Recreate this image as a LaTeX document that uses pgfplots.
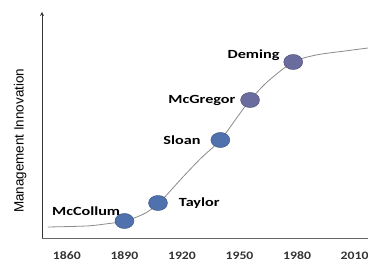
\documentclass[border=0pt]{standalone}
\usepackage{pgfplots}
\pgfplotsset{compat=1.18}
\usepackage{fontspec}
\setmainfont{Carlito}
\newfontfamily\arialfont{Liberation Sans}
\definecolor{ptblue}{HTML}{4F72AE}
\definecolor{ptpurple}{HTML}{6B6C9E}
\definecolor{curve}{HTML}{8A8A8A}
\begin{document}
\begin{tikzpicture}
\begin{axis}[
  scale only axis,
  width=326bp, height=226bp,
  xmin=1847, xmax=2017, ymin=0, ymax=226,
  axis x line=bottom, axis y line=left,
  x axis line style={-, draw=gray!80!black, line width=1pt},
  y axis line style={-stealth, draw=black!80, line width=0.8pt},
  xtick={1860,1890,1920,1950,1980,2010},
  ytick=\empty,
  major tick length=0pt,
  xticklabel style={font=\bfseries\fontsize{11.5}{12}\selectfont, text=black!80, xscale=1.2, yshift=-10bp},
  /pgf/number format/assume math mode=true,
  /pgf/number format/1000 sep={},
  clip=false,
]
\addplot[curve, line width=0.8pt, smooth, tension=0.5] coordinates {
  (1850,11) (1870,12) (1880,14) (1890,17) (1900,24) (1908,35) (1920,60)
  (1930,80) (1940,98) (1950,124) (1955.5,138) (1965,157) (1978,176)
  (1990,183) (2005,187) (2017,190)
};
\addplot[only marks, mark=*, mark size=9.5pt, mark options={fill=ptblue, draw=ptblue!70!black, yscale=0.8}] coordinates {
  (1890,17) (1907.5,35) (1940,98)
};
\addplot[only marks, mark=*, mark size=9.5pt, mark options={fill=ptpurple, draw=ptpurple!70!black, yscale=0.8}] coordinates {
  (1955.5,138) (1978,176)
};
\node[font=\bfseries\fontsize{12.5}{13}\selectfont, xscale=1.3] at (axis cs:1870,27) {McCollum};
\node[font=\bfseries\fontsize{12.5}{13}\selectfont, xscale=1.3] at (axis cs:1929,35) {Taylor};
\node[font=\bfseries\fontsize{12.5}{13}\selectfont, xscale=1.3] at (axis cs:1920,98) {Sloan};
\node[font=\bfseries\fontsize{12.5}{13}\selectfont, xscale=1.3] at (axis cs:1930.4,138) {McGregor};
\node[font=\bfseries\fontsize{12.5}{13}\selectfont, xscale=1.3] at (axis cs:1957.3,183) {Deming};
\node[rotate=90, font=\arialfont\fontsize{13.5}{15}\selectfont] at (rel axis cs:-0.067,0.43) {Management Innovation};
\end{axis}
\pgfresetboundingbox
\path (current axis.south west) ++(-42bp,-23bp) rectangle ++(368bp,261bp);
\end{tikzpicture}
\end{document}
